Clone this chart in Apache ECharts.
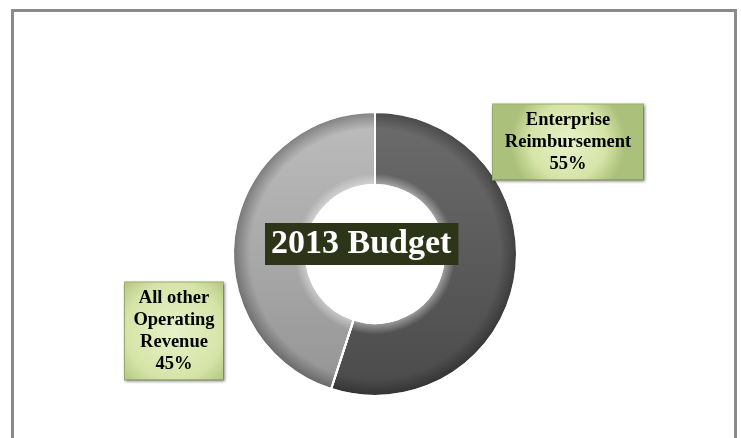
<!DOCTYPE html>
<html>
<head>
<meta charset="utf-8">
<script src="https://cdn.jsdelivr.net/npm/echarts@6/dist/echarts.min.js"></script>
<style>
  html, body { margin: 0; padding: 0; background: #ffffff; }
  #chart { width: 741px; height: 438px; }
</style>
</head>
<body>
<div id="chart"></div>
<script>
// Revenue split for the 2013 budget
const categories = ['Enterprise\nReimbursement', 'All other\nOperating\nRevenue'];
const shares = [55, 45];
const chartTitle = '2013 Budget';

const CX = 375, CY = 254, R_IN = 69, R_OUT = 142;

const sliceFills = [
  { type: 'linear', x: 0, y: 0, x2: 0, y2: 1,
    colorStops: [{ offset: 0, color: '#6c6c6c' }, { offset: 1, color: '#4a4a4a' }] },
  { type: 'linear', x: 0, y: 0, x2: 0, y2: 1,
    colorStops: [{ offset: 0, color: '#bdbdbd' }, { offset: 1, color: '#959595' }] }
];

// bevel overlay: lighter along the hole, darker along the rim
const bevel = {
  type: 'radial', x: CX, y: CY, r: R_OUT, global: true,
  colorStops: [
    { offset: 0, color: 'rgba(255,255,255,0)' },
    { offset: R_IN / R_OUT, color: 'rgba(255,255,255,0.45)' },
    { offset: R_IN / R_OUT + 0.08, color: 'rgba(255,255,255,0)' },
    { offset: 0.88, color: 'rgba(0,0,0,0)' },
    { offset: 1, color: 'rgba(0,0,0,0.32)' }
  ]
};

const labelBox = {
  type: 'radial', x: 0.5, y: 0.5, r: 0.75,
  colorStops: [
    { offset: 0, color: '#e8f1c9' },
    { offset: 0.65, color: '#d6e4a8' },
    { offset: 1, color: '#abc07a' }
  ]
};

const labelPos = [
  { x: 568, y: 142, w: 150, h: 75 },
  { x: 174, y: 331, w: 98, h: 97 }
];

const pieData = categories.map((name, i) => ({
  name: name,
  value: shares[i],
  itemStyle: { color: sliceFills[i] }
}));

const chart = echarts.init(document.getElementById('chart'), null, { renderer: 'canvas' });

chart.setOption({
  animation: false,
  backgroundColor: '#ffffff',
  title: {
    text: chartTitle,
    left: 265,
    top: 223,
    backgroundColor: '#2d3519',
    padding: [3, 7, 2, 6],
    textStyle: {
      color: '#ffffff',
      fontFamily: 'Liberation Serif',
      fontWeight: 'bold',
      fontSize: 34,
      lineHeight: 37
    },
    z: 10
  },
  graphic: [{
    type: 'rect',
    shape: { x: 12.5, y: 10.5, width: 723, height: 460 },
    style: { fill: 'none', stroke: '#8a8a8a', lineWidth: 3 },
    silent: true,
    z: 100
  }],
  series: [
    {
      type: 'pie',
      center: [CX, CY],
      radius: [R_IN, R_OUT],
      startAngle: 90,
      clockwise: true,
      itemStyle: { borderColor: '#ffffff', borderWidth: 2 },
      label: {
        show: true,
        formatter: p => p.name + '\n' + p.value + '%',
        fontFamily: 'Liberation Serif',
        fontWeight: 'bold',
        fontSize: 18.5,
        lineHeight: 22,
        color: '#000000',
        align: 'center',
        verticalAlign: 'middle',
        backgroundColor: labelBox,
        borderColor: '#9fb36f',
        borderWidth: 1,
        shadowColor: 'rgba(0,0,0,0.35)',
        shadowBlur: 3,
        shadowOffsetX: 1,
        shadowOffsetY: 1
      },
      labelLine: { show: false },
      labelLayout: p => {
        const b = labelPos[p.dataIndex];
        return { x: b.x, y: b.y, width: b.w, height: b.h, align: 'center', verticalAlign: 'middle' };
      },
      emphasis: { disabled: true },
      data: pieData
    },
    {
      type: 'pie',
      center: [CX, CY],
      radius: [R_IN, R_OUT],
      startAngle: 90,
      clockwise: true,
      silent: true,
      itemStyle: { color: bevel, borderColor: '#ffffff', borderWidth: 2 },
      label: { show: false },
      labelLine: { show: false },
      emphasis: { disabled: true },
      data: shares.map((v, i) => ({ name: categories[i], value: v }))
    }
  ]
});
</script>
</body>
</html>
